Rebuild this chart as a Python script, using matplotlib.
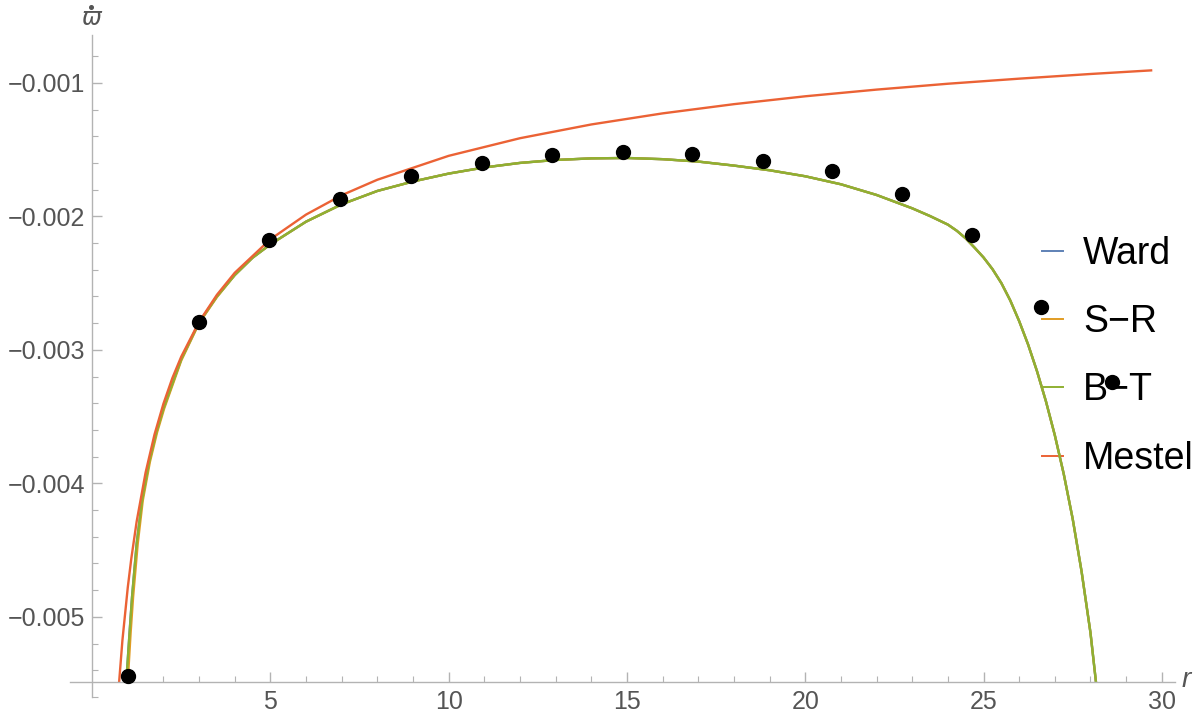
import matplotlib
matplotlib.use("Agg")
import matplotlib.pyplot as plt
from matplotlib.lines import Line2D

plt.rcParams['font.family'] = ['Liberation Sans', 'DejaVu Sans']

# ---- data ----
dot_r = [1.0, 2.99, 4.96, 6.95, 8.94, 10.93, 12.9, 14.89, 16.82, 18.81, 20.75, 22.71, 24.67, 26.6, 28.6]
dot_w = [-0.005440, -0.002791, -0.002179, -0.001873, -0.001701, -0.001597, -0.001541,
         -0.001515, -0.001530, -0.001582, -0.001664, -0.001836, -0.002142, -0.002679, -0.003239]

mestel_r = [0.76, 0.85, 1.0, 1.1, 1.25, 1.5, 1.75, 2.0, 2.25, 2.5, 3.0, 3.5, 4.0, 5.0, 6.0,
            7.0, 8.0, 10.0, 12.0, 14.0, 16.0, 18.0, 20.0, 22.0, 24.0, 26.0, 28.0, 29.7]
mestel_w = [-0.00548, -0.005176, -0.00478, -0.004562, -0.004285, -0.003919, -0.003634,
            -0.003404, -0.003212, -0.003051, -0.00279, -0.002588, -0.002423, -0.002172,
            -0.001987, -0.001842, -0.001726, -0.001547, -0.001415, -0.001312, -0.001229,
            -0.00116, -0.001101, -0.001051, -0.001007, -0.000969, -0.000934, -0.000907]

bt_r = [0.96, 1.05, 1.12, 1.25, 1.4, 1.6, 1.8, 2.0, 2.5, 3.0, 3.5, 4.0, 4.5, 5.0, 6.0, 7.0,
        8.0, 9.0, 10.0, 11.0, 12.0, 13.0, 14.0, 15.0, 16.0, 17.0, 18.0, 19.0, 20.0, 21.0,
        22.0, 23.0, 23.5, 24.0, 24.25, 24.5, 24.75, 25.0, 25.25, 25.5, 25.75, 26.0, 26.25,
        26.5, 26.75, 27.0, 27.25, 27.5, 27.75, 28.0, 28.15]
bt_w = [-0.00548, -0.00512, -0.00485, -0.00445, -0.00413, -0.00384, -0.00362, -0.00344,
        -0.00307, -0.002795, -0.00260, -0.00244, -0.00231, -0.00221, -0.00204, -0.00191,
        -0.00181, -0.001739, -0.00168, -0.001634, -0.00160, -0.001578, -0.001566,
        -0.001563, -0.001572, -0.00159, -0.00162, -0.001655, -0.0017, -0.00176, -0.00184,
        -0.00194, -0.001998, -0.002062, -0.002108, -0.002165, -0.002235, -0.002308,
        -0.002395, -0.0025, -0.00263, -0.002785, -0.00296, -0.00316, -0.003385, -0.00364,
        -0.00393, -0.004265, -0.00466, -0.00512, -0.00548]

sr_r = [1.0, 1.08, 1.15, 1.28, 1.42, 1.62, 1.82, 2.02, 2.5, 3.0, 3.5, 4.0, 4.5, 5.0, 6.0, 7.0,
        8.0, 9.0, 10.0, 11.0, 12.0, 13.0, 14.0, 15.0, 16.0, 17.0, 18.0, 19.0, 20.0, 21.0,
        22.0, 23.0, 23.5, 24.0, 24.25, 24.5, 24.75, 25.0, 25.25, 25.5, 25.75, 26.0, 26.25,
        26.5, 26.75, 27.0, 27.25, 27.5, 27.75, 28.0, 28.15]
sr_w = [-0.00548, -0.00512, -0.00485, -0.00445, -0.00413, -0.00384, -0.00362, -0.00344,
        -0.00308, -0.00280, -0.002605, -0.00244, -0.00231, -0.00221, -0.00204, -0.00191,
        -0.00181, -0.001739, -0.00168, -0.001634, -0.00160, -0.001578, -0.001566,
        -0.001563, -0.001572, -0.00159, -0.00162, -0.001655, -0.0017, -0.00176, -0.00184,
        -0.00194, -0.001998, -0.002062, -0.002108, -0.002165, -0.002235, -0.002308,
        -0.002395, -0.0025, -0.00263, -0.002785, -0.00296, -0.00316, -0.003385, -0.00364,
        -0.00393, -0.004265, -0.00466, -0.00512, -0.00548]

ward_r = bt_r
ward_w = bt_w

legend_labels = ["Ward", "S\u2212R", "B\u2212T", "Mestel"]
colors = ["#5E81B5", "#E19C24", "#8FB032", "#EB6235"]

x_major = [5, 10, 15, 20, 25, 30]
y_major = [-0.005, -0.004, -0.003, -0.002, -0.001]
y_major_labels = ["\u22120.005", "\u22120.004", "\u22120.003", "\u22120.002", "\u22120.001"]

# ---- figure ----
fig = plt.figure(figsize=(12, 7.19), dpi=100)
W, H = 1200, 719
ax = fig.add_axes([70 / W, 1 - 697 / H, (1175 - 70) / W, (697 - 35) / H])

axis_y = -0.005485
ax.set_xlim(-0.62, 30.37)
ax.set_ylim(-0.005585, -0.000642)

lw = 1.7
ax.plot(ward_r, ward_w, color=colors[0], lw=lw, zorder=2)
ax.plot(sr_r, sr_w, color=colors[1], lw=lw, zorder=2.1)
ax.plot(bt_r, bt_w, color=colors[2], lw=lw, zorder=2.2)
ax.plot(mestel_r, mestel_w, color=colors[3], lw=lw, zorder=2.3)
ax.plot(dot_r, dot_w, 'o', color='black', ms=10, zorder=5)

for s in ['top', 'right']:
    ax.spines[s].set_visible(False)
ax.spines['left'].set_position(('data', 0))
ax.spines['bottom'].set_position(('data', axis_y))
for s in ['left', 'bottom']:
    ax.spines[s].set_color('#b3b3b3')
    ax.spines[s].set_linewidth(1.0)

ax.set_xticks(x_major)
ax.set_xticks([i for i in range(0, 31) if i % 5 != 0], minor=True)
ax.set_yticks(y_major)
ax.set_yticks([-0.0008, -0.0012, -0.0014, -0.0016, -0.0018, -0.0022, -0.0024, -0.0026,
               -0.0028, -0.0032, -0.0034, -0.0036, -0.0038, -0.0042, -0.0044, -0.0046,
               -0.0048, -0.0052, -0.0054, -0.0056], minor=True)
ax.set_yticklabels(y_major_labels)
ax.set_xticklabels([str(v) for v in x_major])

ax.tick_params(axis='both', which='major', direction='in', length=7, width=1,
               color='#b3b3b3', labelcolor='#555555', labelsize=18)
ax.tick_params(axis='both', which='minor', direction='in', length=4, width=0.8,
               color='#b3b3b3')
ax.tick_params(axis='x', which='major', pad=6)
ax.tick_params(axis='y', which='major', pad=5)

# axis labels
fig.text(92 / W, 1 - 18 / H, '\u03d6', ha='center', va='center', fontsize=17,
         color='#555555', family=['DejaVu Sans'], style='italic')
fig.add_artist(Line2D([91 / W], [1 - 7 / H], marker='o', ms=2.6, color='#555555',
                      transform=fig.transFigure))
fig.text(1186 / W, 1 - 680 / H, 'r', ha='center', va='center', fontsize=20,
         color='#555555', style='italic')

# legend
handles = [Line2D([0], [0], color=c, lw=1.4) for c in colors]
leg = ax.legend(handles, legend_labels, loc='upper left', frameon=False,
                bbox_to_anchor=(1042 / W, 1 - 236 / H), bbox_transform=fig.transFigure,
                fontsize=27, handlelength=0.55, handletextpad=0.55, labelspacing=0.86,
                borderaxespad=0, borderpad=0)
leg.set_zorder(1)

fig.savefig("out.png", dpi=100)
